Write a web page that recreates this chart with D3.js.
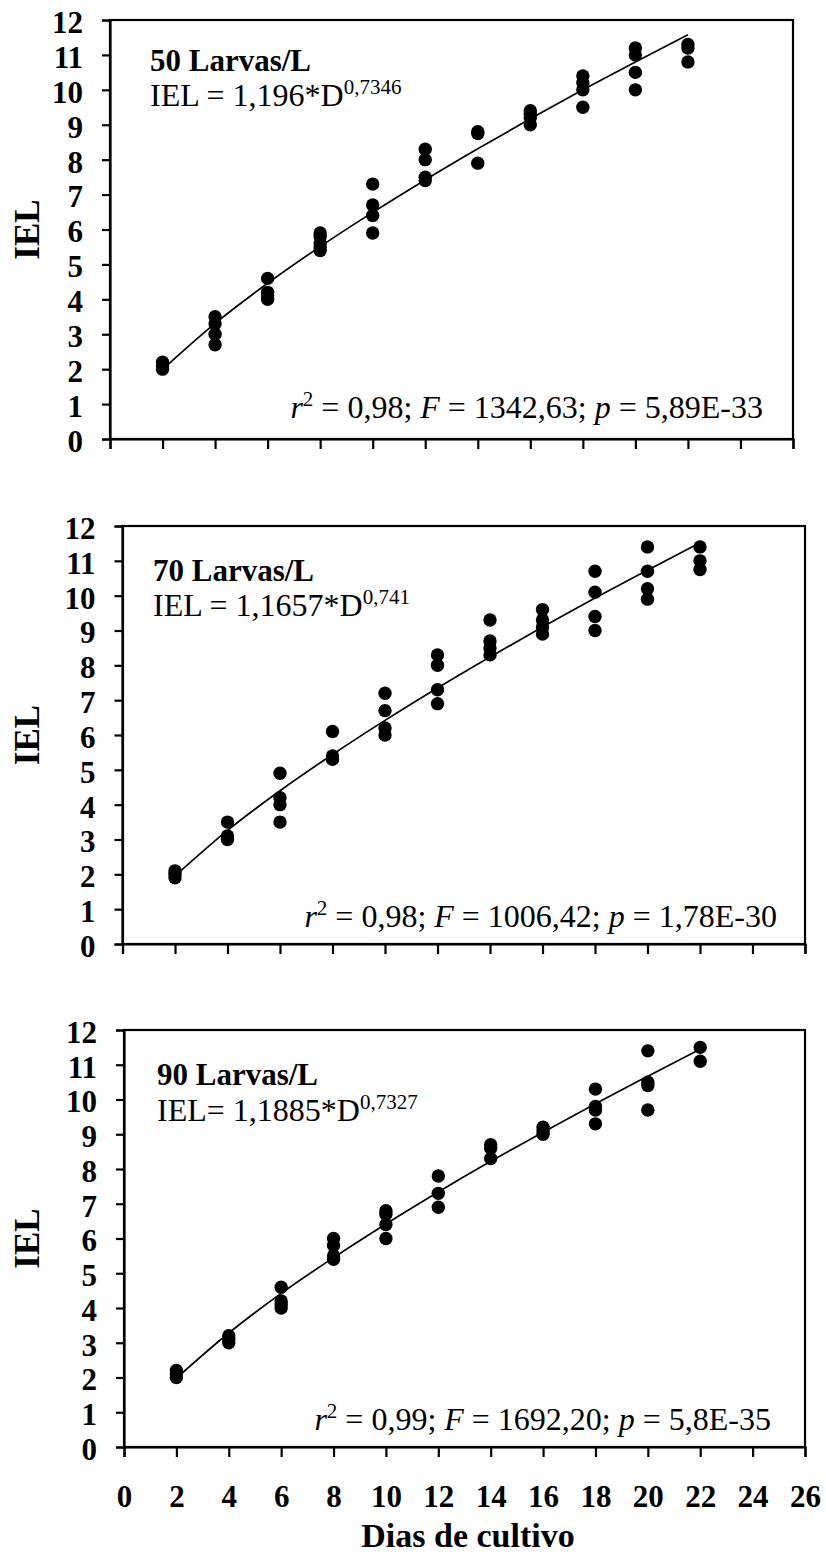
<!DOCTYPE html>
<html>
<head>
<meta charset="utf-8">
<script src="https://cdn.jsdelivr.net/npm/d3@7"></script>
<style>
  html, body { margin: 0; padding: 0; background: #fff; }
  svg { display: block; }
  text { font-family: "Liberation Serif", "Times New Roman", serif; fill: #000; }
</style>
</head>
<body>
<svg id="chart" width="826" height="1555"></svg>
<script>
// ---------- DATA ----------
const days = [2, 4, 6, 8, 10, 12, 14, 16, 18, 20, 22];
const xTicks = [0, 2, 4, 6, 8, 10, 12, 14, 16, 18, 20, 22, 24, 26];
const yTicks = [0, 1, 2, 3, 4, 5, 6, 7, 8, 9, 10, 11, 12];

// observed IEL values per sampling day
const obs50 = [
  [2.0, 2.1, 2.2],
  [3.5, 3.3, 3.0, 2.7],
  [4.6, 4.2, 4.1, 4.0],
  [5.9, 5.8, 5.6, 5.5, 5.4],
  [7.3, 6.7, 6.4, 5.9],
  [8.3, 8.0, 7.5, 7.4],
  [8.8, 8.75, 7.9],
  [9.4, 9.3, 9.2, 9.0],
  [10.4, 10.2, 10.0, 9.5],
  [11.2, 11.0, 10.5, 10.0],
  [11.3, 11.2, 10.8]
];
const obs70 = [
  [2.1, 2.0, 1.9],
  [3.5, 3.1, 3.0],
  [4.9, 4.2, 4.0, 3.5],
  [6.1, 5.4, 5.3],
  [7.2, 6.7, 6.2, 6.0],
  [8.3, 8.0, 7.3, 6.9],
  [9.3, 8.7, 8.5, 8.3],
  [9.6, 9.3, 9.1, 8.9],
  [10.7, 10.1, 9.4, 9.0],
  [11.4, 10.7, 10.2, 9.9],
  [11.4, 11.0, 10.75]
];
const obs90 = [
  [2.2, 2.1, 2.0],
  [3.2, 3.1, 3.0],
  [4.6, 4.2, 4.1, 4.0],
  [6.0, 5.8, 5.5, 5.4],
  [6.8, 6.7, 6.4, 6.0],
  [7.8, 7.3, 6.9],
  [8.7, 8.6, 8.3],
  [9.2, 9.1, 9.0],
  [10.3, 9.8, 9.7, 9.3],
  [11.4, 10.5, 10.4, 9.7],
  [11.5, 11.1]
];

// fitted trend line values at each day
const fit50 = [1.99, 3.31, 4.46, 5.51, 6.49, 7.42, 8.31, 9.17, 10.0, 10.8, 11.58];
const fit70 = [1.95, 3.26, 4.40, 5.44, 6.42, 7.35, 8.24, 9.10, 9.93, 10.73, 11.52];
const fit90 = [1.98, 3.28, 4.42, 5.45, 6.42, 7.34, 8.22, 9.06, 9.88, 10.67, 11.45];

const titles = ["50 Larvas/L", "70 Larvas/L", "90 Larvas/L"];
const eqMain = ["IEL = 1,196*D", "IEL = 1,1657*D", "IEL= 1,1885*D"];
const eqExp = ["0,7346", "0,741", "0,7327"];
const statR2 = ["0,98", "0,98", "0,99"];
const statF = ["1342,63", "1006,42", "1692,20"];
const statP = ["5,89E-33", "1,78E-30", "5,8E-35"];
const xTitle = "Dias de cultivo";
const yTitle = "IEL";

// ---------- LAYOUT ----------
const panels = [
  { left: 110, right: 793, top: 20, bottom: 439, obs: obs50, fit: fit50, tx: 150, t1: 51, t2: 86, statX: 763, statDy: 21, showX: false },
  { left: 122.5, right: 805, top: 526, bottom: 944, obs: obs70, fit: fit70, tx: 153, t1: 55, t2: 90, statX: 777, statDy: 17, showX: false },
  { left: 124, right: 805, top: 1030, bottom: 1447, obs: obs90, fit: fit90, tx: 157, t1: 55, t2: 91, statX: 771, statDy: 17, showX: true }
];

const FONT = '"Liberation Serif", "Times New Roman", serif';
const svg = d3.select("#chart");

panels.forEach((p, i) => {
  const x = d3.scaleLinear().domain([0, 26]).range([p.left, p.right]);
  const y = d3.scaleLinear().domain([0, 12]).range([p.bottom, p.top]);
  const g = svg.append("g");

  // frame
  g.append("rect")
    .attr("x", p.left).attr("y", p.top)
    .attr("width", p.right - p.left).attr("height", p.bottom - p.top)
    .attr("fill", "none").attr("stroke", "#000").attr("stroke-width", 2.2);

  // y axis
  const ya = g.append("g").attr("transform", `translate(${p.left},0)`)
    .call(d3.axisLeft(y).tickValues(yTicks).tickSize(8).tickPadding(19).tickFormat(d3.format("d")));
  ya.attr("font-family", FONT);
  ya.select(".domain").attr("stroke-width", 2.2);
  ya.selectAll(".tick line").attr("stroke-width", 2.2);
  ya.selectAll(".tick text")
    .style("font-family", FONT)
    .style("font-weight", "bold").style("font-size", "31px")
    .attr("dy", "0.4em");

  // x axis
  const xa = g.append("g").attr("transform", `translate(0,${p.bottom})`)
    .call(d3.axisBottom(x).tickValues(xTicks).tickSize(10)
      .tickFormat(p.showX ? d3.format("d") : () => ""));
  xa.attr("font-family", FONT);
  xa.select(".domain").attr("stroke-width", 2.2);
  xa.selectAll(".tick line").attr("stroke-width", 2.2);
  xa.selectAll(".tick text")
    .style("font-family", FONT)
    .style("font-weight", "bold").style("font-size", "31px")
    .attr("y", 60).attr("dy", 0);

  // y label
  g.append("text")
    .attr("transform", `translate(39,${(p.top + p.bottom) / 2}) rotate(-90)`)
    .attr("text-anchor", "middle")
    .style("font-weight", "bold").style("font-size", "35px")
    .text(yTitle);

  // points
  const pts = [];
  p.obs.forEach((vals, k) => vals.forEach(v => pts.push([days[k], v])));
  g.append("g").selectAll("circle").data(pts).join("circle")
    .attr("cx", d => x(d[0])).attr("cy", d => y(d[1]))
    .attr("r", 6.7).attr("fill", "#000");

  // trend line
  const line = d3.line().x((d, k) => x(days[k])).y(d => y(d)).curve(d3.curveMonotoneX);
  g.append("path").datum(p.fit).attr("d", line)
    .attr("fill", "none").attr("stroke", "#000").attr("stroke-width", 1.7);

  // title + equation
  g.append("text").attr("x", p.tx).attr("y", p.top + p.t1)
    .style("font-weight", "bold").style("font-size", "31px")
    .text(titles[i]);
  const eq = g.append("text").attr("x", p.tx).attr("y", p.top + p.t2)
    .style("font-size", "32px");
  eq.append("tspan").text(eqMain[i]);
  eq.append("tspan").attr("dy", -12).style("font-size", "21px").text(eqExp[i]);

  // statistics
  const st = g.append("text").attr("x", p.statX).attr("y", p.bottom - p.statDy)
    .attr("text-anchor", "end").style("font-size", "32px");
  st.append("tspan").style("font-style", "italic").text("r");
  st.append("tspan").attr("dy", -12).style("font-size", "21px").text("2");
  st.append("tspan").attr("dy", 12).text(" = " + statR2[i] + "; ");
  st.append("tspan").style("font-style", "italic").text("F");
  st.append("tspan").text(" = " + statF[i] + "; ");
  st.append("tspan").style("font-style", "italic").text("p");
  st.append("tspan").text(" = " + statP[i]);

  if (p.showX) {
    g.append("text").attr("x", 468).attr("y", 1547)
      .attr("text-anchor", "middle")
      .style("font-weight", "bold").style("font-size", "34px")
      .text(xTitle);
  }
});
</script>
</body>
</html>
